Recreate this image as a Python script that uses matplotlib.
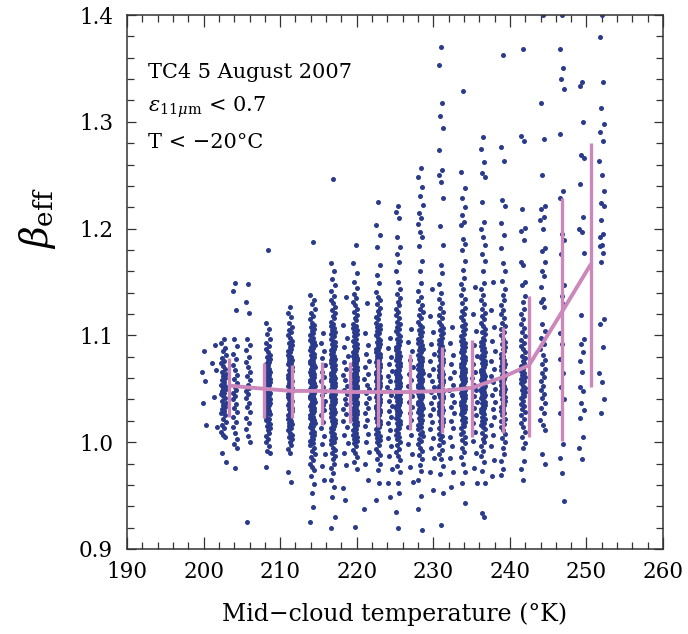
import numpy as np
import matplotlib
matplotlib.use("Agg")
import matplotlib.pyplot as plt
from matplotlib.ticker import MultipleLocator

plt.rcParams['font.family'] = ['DejaVu Serif']
plt.rcParams['mathtext.fontset'] = 'dejavuserif'

# beta_eff values, stored as beta*1000, one list per column
c200 = [1085, 1066, 1057, 1037, 1016]
c201 = [1091, 1074, 1068, 1042, 1014]
c202 = [1097, 1093, 1088, 1085, 1082, 1079, 1076, 1074, 1071, 1069, 1066, 1064, 1062, 1060, 1058, 1056,
        1054, 1053, 1051, 1050, 1048, 1046, 1045, 1043, 1041, 1039, 1037, 1035, 1033, 1031, 1029, 1027,
        1025, 1022, 1019, 1016, 1013, 1010, 1007, 1005, 990, 981]
c204 = [1149, 1142, 1124, 1097, 1090, 1083, 1078, 1072, 1068, 1063, 1059, 1055, 1052, 1049, 1046, 1043,
        1040, 1036, 1032, 1028, 1024, 1019, 1014, 1009, 1003, 998, 995, 976]
c205 = [1148, 1131, 1121, 1097, 1091, 1086, 1080, 1075, 1070, 1066, 1062, 1058, 1054, 1051, 1048, 1045,
        1041, 1037, 1033, 1028, 1023, 1018, 1012, 1006, 1000, 925]
c208 = [1180, 1112, 1106, 1101, 1097, 1093, 1090, 1087, 1084, 1082, 1080, 1078, 1076, 1075, 1073, 1072,
        1070, 1069, 1067, 1066, 1064, 1063, 1062, 1060, 1059, 1058, 1056, 1055, 1054, 1053, 1051, 1050,
        1049, 1048, 1046, 1045, 1044, 1043, 1041, 1040, 1039, 1037, 1036, 1035, 1033, 1032, 1030, 1029,
        1027, 1026, 1024, 1022, 1021, 1019, 1017, 1015, 1013, 1011, 1009, 1006, 1003, 1000, 996, 992, 990, 977]
c211 = [1127, 1121, 1117, 1112, 1108, 1105, 1103, 1100, 1098, 1095, 1093, 1091, 1089, 1087, 1085, 1084,
        1082, 1080, 1079, 1077, 1076, 1074, 1073, 1071, 1070, 1068, 1067, 1066, 1064, 1063, 1062, 1060,
        1059, 1058, 1057, 1055, 1054, 1053, 1052, 1051, 1049, 1048, 1047, 1046, 1045, 1044, 1042, 1041,
        1040, 1039, 1037, 1036, 1035, 1033, 1032, 1031, 1029, 1028, 1026, 1025, 1023, 1022, 1020, 1018,
        1017, 1015, 1013, 1011, 1009, 1007, 1005, 1003, 1000, 997, 994, 990, 972, 963]
c214 = [1187, 1138, 1133, 1129, 1125, 1121, 1118, 1115, 1112, 1110, 1108, 1106, 1104, 1102, 1100, 1098,
        1096, 1094, 1093, 1091, 1089, 1088, 1086, 1085, 1083, 1082, 1080, 1079, 1078, 1076, 1075, 1074,
        1072, 1071, 1070, 1069, 1067, 1066, 1065, 1064, 1063, 1061, 1060, 1059, 1058, 1057, 1056, 1055,
        1054, 1053, 1052, 1051, 1050, 1049, 1048, 1047, 1046, 1045, 1044, 1043, 1042, 1041, 1040, 1039,
        1038, 1036, 1035, 1034, 1033, 1032, 1030, 1029, 1028, 1027, 1025, 1024, 1023, 1021, 1020, 1018,
        1017, 1015, 1014, 1012, 1010, 1009, 1007, 1005, 1003, 1001, 999, 997, 995, 992, 989, 986, 983,
        980, 977, 974, 968, 961, 952, 939, 925]
c215 = [1102, 1093, 1085, 1079, 1072, 1066, 1061, 1057, 1052, 1048, 1044, 1039, 1035, 1030, 1025, 1019,
        1013, 1006, 998, 989, 978, 965]
c217 = [1246, 1168, 1160, 1153, 1147, 1142, 1137, 1133, 1130, 1127, 1124, 1121, 1118, 1116, 1113, 1111,
        1109, 1107, 1105, 1103, 1101, 1099, 1097, 1095, 1094, 1092, 1090, 1089, 1087, 1086, 1084, 1083,
        1081, 1080, 1078, 1077, 1076, 1074, 1073, 1072, 1070, 1069, 1068, 1067, 1065, 1064, 1063, 1062,
        1061, 1060, 1059, 1058, 1057, 1056, 1055, 1054, 1053, 1052, 1051, 1050, 1049, 1048, 1047, 1046,
        1045, 1044, 1043, 1042, 1041, 1040, 1039, 1038, 1037, 1036, 1035, 1033, 1032, 1031, 1030, 1028,
        1027, 1026, 1024, 1023, 1021, 1020, 1018, 1017, 1015, 1013, 1012, 1010, 1008, 1006, 1004, 1002,
        1000, 998, 995, 993, 990, 987, 984, 980, 976, 971, 965, 958, 949, 930, 920]
c218 = [1136, 1110, 1098, 1089, 1081, 1075, 1069, 1063, 1058, 1053, 1049, 1045, 1040, 1036, 1031, 1026,
        1020, 1014, 1007, 999, 990, 979, 957, 946]
c220 = [1185, 1168, 1158, 1150, 1144, 1139, 1135, 1131, 1128, 1125, 1122, 1119, 1116, 1114, 1111, 1109,
        1107, 1105, 1103, 1101, 1099, 1097, 1095, 1093, 1092, 1090, 1088, 1087, 1085, 1084, 1082, 1081,
        1079, 1078, 1077, 1075, 1074, 1073, 1071, 1070, 1069, 1068, 1066, 1065, 1064, 1063, 1062, 1061,
        1060, 1058, 1057, 1056, 1055, 1054, 1053, 1052, 1051, 1050, 1049, 1048, 1047, 1046, 1045, 1044,
        1043, 1042, 1041, 1040, 1039, 1038, 1037, 1036, 1035, 1034, 1032, 1031, 1030, 1029, 1027, 1026,
        1025, 1023, 1022, 1020, 1019, 1017, 1016, 1014, 1012, 1011, 1009, 1007, 1005, 1003, 1001, 999,
        996, 993, 990, 986, 981, 975, 921]
c221 = [1130, 1102, 1091, 1083, 1076, 1070, 1064, 1059, 1054, 1050, 1046, 1041, 1037, 1032, 1027, 1021,
        1015, 1008, 1000, 991, 980, 965, 937]
c223 = [1225, 1203, 1194, 1183, 1166, 1157, 1149, 1141, 1136, 1133, 1129, 1126, 1123, 1120, 1117, 1115,
        1112, 1110, 1108, 1106, 1104, 1102, 1100, 1098, 1096, 1094, 1092, 1091, 1089, 1087, 1086, 1084,
        1083, 1081, 1080, 1078, 1077, 1075, 1074, 1073, 1071, 1070, 1069, 1067, 1066, 1065, 1064, 1062,
        1061, 1060, 1059, 1058, 1057, 1056, 1055, 1054, 1053, 1052, 1051, 1050, 1049, 1048, 1047, 1046,
        1045, 1044, 1043, 1042, 1041, 1040, 1039, 1038, 1036, 1035, 1034, 1033, 1032, 1030, 1029, 1028,
        1026, 1025, 1023, 1022, 1020, 1019, 1017, 1015, 1014, 1012, 1010, 1008, 1006, 1004, 1002, 1000,
        997, 994, 991, 988, 984, 980, 974, 962, 946]
c224 = [1098, 1088, 1080, 1073, 1067, 1062, 1057, 1052, 1048, 1044, 1039, 1034, 1029, 1024, 1018, 1011,
        1004, 996, 987, 975, 962, 949]
c225 = [1221, 1216, 1210, 1192, 1183, 1176, 1169, 1160, 1150, 1143, 1139, 1135, 1131, 1128, 1125, 1122,
        1119, 1116, 1113, 1111, 1108, 1106, 1104, 1101, 1099, 1097, 1095, 1093, 1091, 1089, 1088, 1086,
        1084, 1083, 1081, 1080, 1078, 1077, 1075, 1074, 1072, 1071, 1070, 1068, 1067, 1066, 1064, 1063,
        1062, 1061, 1060, 1058, 1057, 1056, 1055, 1054, 1053, 1052, 1051, 1050, 1049, 1048, 1047, 1046,
        1045, 1044, 1043, 1042, 1041, 1040, 1039, 1038, 1037, 1035, 1034, 1033, 1032, 1030, 1029, 1028,
        1026, 1025, 1023, 1022, 1020, 1018, 1017, 1015, 1013, 1011, 1009, 1007, 1005, 1003, 1000, 997,
        994, 991, 987, 983, 978, 972, 962, 952, 935, 920]
c227 = [1106, 1094, 1085, 1077, 1070, 1064, 1058, 1053, 1048, 1043, 1038, 1033, 1027, 1021, 1014, 1007,
        998, 989, 977, 963]
c228 = [1257, 1248, 1239, 1231, 1222, 1215, 1210, 1204, 1197, 1192, 1184, 1170, 1160, 1149, 1142, 1136,
        1132, 1128, 1125, 1122, 1119, 1116, 1113, 1110, 1108, 1105, 1103, 1101, 1099, 1097, 1095, 1093,
        1091, 1089, 1087, 1086, 1084, 1082, 1081, 1079, 1078, 1076, 1075, 1073, 1072, 1071, 1069, 1068,
        1067, 1065, 1064, 1063, 1062, 1061, 1059, 1058, 1057, 1056, 1055, 1054, 1053, 1052, 1051, 1050,
        1049, 1048, 1047, 1046, 1045, 1044, 1043, 1042, 1041, 1040, 1038, 1037, 1036, 1035, 1033, 1032,
        1031, 1029, 1028, 1026, 1025, 1023, 1021, 1020, 1018, 1016, 1014, 1012, 1010, 1008, 1006, 1003,
        1001, 998, 995, 992, 988, 984, 979, 973, 965, 950, 937, 918]
c230 = [1143, 1118, 1103, 1092, 1083, 1076, 1069, 1063, 1057, 1052, 1047, 1042, 1037, 1031, 1025, 1019,
        1012, 1004, 995, 985, 972, 955]
c231 = [1370, 1353, 1318, 1305, 1294, 1274, 1255, 1250, 1244, 1229, 1202, 1185, 1166, 1158, 1148, 1140,
        1134, 1130, 1126, 1122, 1119, 1116, 1113, 1110, 1107, 1105, 1102, 1100, 1098, 1096, 1094, 1092,
        1090, 1088, 1086, 1085, 1083, 1081, 1080, 1078, 1077, 1075, 1074, 1072, 1071, 1070, 1068, 1067,
        1066, 1064, 1063, 1062, 1061, 1060, 1058, 1057, 1056, 1055, 1054, 1053, 1052, 1051, 1050, 1049,
        1048, 1047, 1046, 1045, 1044, 1043, 1042, 1041, 1039, 1038, 1037, 1036, 1034, 1033, 1032, 1030,
        1029, 1027, 1026, 1024, 1022, 1020, 1019, 1017, 1015, 1013, 1011, 1008, 1006, 1003, 1000, 997,
        993, 989, 984, 978, 970, 952, 922]
c232 = [1108, 1093, 1082, 1073, 1066, 1060, 1054, 1049, 1044, 1038, 1033, 1027, 1020, 1013, 1005, 996,
        985, 972, 958]
c234 = [1329, 1253, 1238, 1229, 1220, 1213, 1206, 1203, 1190, 1186, 1180, 1170, 1161, 1154, 1148, 1143,
        1138, 1134, 1130, 1126, 1123, 1120, 1117, 1114, 1111, 1109, 1106, 1104, 1101, 1099, 1097, 1095,
        1093, 1091, 1089, 1087, 1085, 1084, 1082, 1080, 1079, 1077, 1076, 1074, 1073, 1071, 1070, 1069,
        1067, 1066, 1065, 1063, 1062, 1061, 1060, 1059, 1057, 1056, 1055, 1054, 1053, 1052, 1051, 1050,
        1049, 1048, 1047, 1046, 1045, 1044, 1043, 1041, 1040, 1039, 1038, 1036, 1035, 1034, 1032, 1031,
        1029, 1028, 1026, 1024, 1023, 1021, 1019, 1017, 1015, 1013, 1010, 1008, 1005, 1002, 999, 995,
        991, 986, 980, 972, 962, 943]
c235 = [1145, 1120, 1104, 1091, 1081, 1073, 1066, 1060, 1054, 1049, 1043, 1038, 1032, 1025, 1018, 1010,
        1001, 990, 976, 962]
c237 = [1286, 1275, 1262, 1252, 1248, 1225, 1206, 1200, 1192, 1185, 1176, 1170, 1160, 1149, 1143, 1138,
        1133, 1129, 1125, 1121, 1118, 1115, 1112, 1109, 1106, 1103, 1101, 1098, 1096, 1094, 1092, 1090,
        1088, 1086, 1084, 1082, 1081, 1079, 1077, 1076, 1074, 1073, 1071, 1070, 1068, 1067, 1066, 1064,
        1063, 1062, 1060, 1059, 1058, 1057, 1056, 1055, 1053, 1052, 1051, 1050, 1049, 1048, 1047, 1046,
        1044, 1043, 1042, 1041, 1039, 1038, 1037, 1035, 1034, 1032, 1031, 1029, 1028, 1026, 1024, 1022,
        1020, 1018, 1016, 1014, 1012, 1009, 1006, 1003, 1000, 996, 992, 987, 981, 973, 962, 934, 930]
c238 = [1150, 1124, 1108, 1095, 1085, 1076, 1069, 1062, 1056, 1050, 1044, 1038, 1031, 1024, 1016, 1007,
        996, 983, 968]
c239 = [1363, 1276, 1263, 1227, 1221, 1205, 1194, 1182, 1168, 1160, 1151, 1143, 1138, 1133, 1128, 1124,
        1120, 1116, 1112, 1109, 1106, 1103, 1100, 1097, 1094, 1092, 1089, 1087, 1085, 1083, 1081, 1079,
        1077, 1075, 1073, 1071, 1070, 1068, 1066, 1065, 1063, 1062, 1060, 1059, 1057, 1056, 1054, 1053,
        1051, 1050, 1048, 1047, 1045, 1044, 1042, 1040, 1039, 1037, 1035, 1033, 1031, 1029, 1027, 1025,
        1022, 1020, 1017, 1014, 1011, 1008, 1004, 1000, 995, 989, 982, 975, 969]
c242 = [1368, 1287, 1282, 1218, 1201, 1198, 1189, 1169, 1166, 1150, 1147, 1137, 1131, 1125, 1120, 1115,
        1111, 1107, 1103, 1099, 1096, 1093, 1090, 1087, 1084, 1081, 1079, 1076, 1074, 1071, 1069, 1067,
        1065, 1063, 1061, 1059, 1057, 1055, 1053, 1051, 1049, 1047, 1045, 1043, 1041, 1039, 1036, 1034,
        1031, 1028, 1025, 1022, 1018, 1014, 1010, 1005, 999, 995, 982, 975, 965]
c244 = [1400, 1318, 1284, 1250, 1221, 1218, 1211, 1208, 1200, 1182, 1179, 1169, 1160, 1156, 1145, 1134,
        1131, 1127, 1111, 1104, 1098, 1092, 1087, 1082, 1077, 1073, 1069, 1065, 1061, 1057, 1053, 1049,
        1045, 1041, 1037, 1032, 1027, 1021, 1016, 1011, 989, 980]
c247 = [1400, 1368, 1350, 1340, 1331, 1289, 1235, 1229, 1195, 1189, 1176, 1147, 1137, 1129, 1102, 1092,
        1078, 1065, 1052, 1040, 1027, 998, 985, 971, 945]
c249 = [1337, 1334, 1300, 1269, 1266, 1242, 1211, 1200, 1197, 1177, 1119, 1097, 1092, 1084, 1076, 1066,
        1052, 1048, 1037, 1030, 1023, 1005, 995, 984]
c252 = [1400, 1379, 1337, 1313, 1298, 1290, 1282, 1263, 1250, 1235, 1224, 1221, 1208, 1195, 1192, 1185,
        1184, 1177, 1169, 1115, 1111, 1089, 1065, 1056, 1040, 1027]

col_temp = [200.0, 201.4, 202.6, 204.1, 205.8, 208.4, 211.3, 214.2, 215.6, 216.9, 218.5, 219.8, 221.3,
            222.8, 224.3, 225.4, 227.0, 228.3, 229.8, 231.0, 232.4, 233.9, 235.4, 236.5, 237.8, 239.1,
            241.7, 244.3, 246.8, 249.4, 252.0]
col_beta = [c200, c201, c202, c204, c205, c208, c211, c214, c215, c217, c218, c220, c221, c223, c224,
            c225, c227, c228, c230, c231, c232, c234, c235, c237, c238, c239, c242, c244, c247, c249, c252]

# binned mean and spread (pink)
bin_temp = [203.3, 207.9, 211.5, 215.5, 219.1, 222.8, 227.0, 231.1, 235.1, 239.1, 242.5, 246.8, 250.6]
bin_mean = [1.053, 1.050, 1.048, 1.048, 1.047, 1.047, 1.047, 1.048, 1.051, 1.061, 1.072, 1.122, 1.167]
bin_lo = [1.024, 1.023, 1.023, 1.016, 1.018, 1.014, 1.011, 1.009, 1.005, 1.009, 1.005, 1.001, 1.052]
bin_hi = [1.079, 1.074, 1.072, 1.075, 1.075, 1.078, 1.083, 1.089, 1.096, 1.108, 1.137, 1.229, 1.280]

blue = '#2a3a8c'
pink = '#cc88bb'
# spread of the dots across each column
jitter = [0.04, -0.27, 0.18, -0.10, 0.30, -0.20, 0.11, -0.31, -0.02, 0.24, -0.15, 0.28, -0.05, 0.14, -0.24]

fig = plt.figure(figsize=(6.88, 6.34), dpi=100)
ax = fig.add_axes([0.1846, 0.1341, 0.7791, 0.8422])

for t, vals in zip(col_temp, col_beta):
    xs = [t + jitter[i % len(jitter)] for i in range(len(vals))]
    ax.plot(xs, np.array(vals) / 1000.0, 'o', ms=3.6, mew=0, color=blue, zorder=2)

ax.vlines(bin_temp, bin_lo, bin_hi, color=pink, lw=2.4, zorder=3)
ax.plot(bin_temp, bin_mean, color=pink, lw=2.8, zorder=3, solid_capstyle='butt')

ax.set_xlim(190, 260)
ax.set_ylim(0.9, 1.4)
ax.xaxis.set_major_locator(MultipleLocator(10))
ax.xaxis.set_minor_locator(MultipleLocator(2))
ax.yaxis.set_major_locator(MultipleLocator(0.1))
ax.yaxis.set_minor_locator(MultipleLocator(0.02))
ax.yaxis.set_major_formatter(matplotlib.ticker.FormatStrFormatter('%.1f'))
ax.tick_params(which='both', direction='in', top=True, right=True, width=0.9, color='#333333')
ax.tick_params(axis='x', which='major', length=8.5, pad=9, labelsize=15.5)
ax.tick_params(axis='x', which='minor', length=5)
ax.tick_params(axis='y', which='major', length=6.5, pad=10, labelsize=15.5)
ax.tick_params(axis='y', which='minor', length=5)
for s in ax.spines.values():
    s.set_linewidth(1.1)
    s.set_color('#333333')

ax.set_xlabel('Mid\u2212cloud temperature (\u00b0K)', fontsize=17, labelpad=14)
ax.set_ylabel(r'$\beta_{\rm eff}$', fontsize=27)
ax.yaxis.set_label_coords(-0.128, 0.62)

ax.text(0.039, 0.893, 'TC4 5 August 2007', transform=ax.transAxes, fontsize=15, va='center')
ax.text(0.039, 0.828, r'$\varepsilon_{11\mu{\rm m}}$ < 0.7', transform=ax.transAxes, fontsize=15, va='center')
ax.text(0.039, 0.762, 'T < \u221220\u00b0C', transform=ax.transAxes, fontsize=15, va='center')

fig.savefig('out.png', dpi=100)
